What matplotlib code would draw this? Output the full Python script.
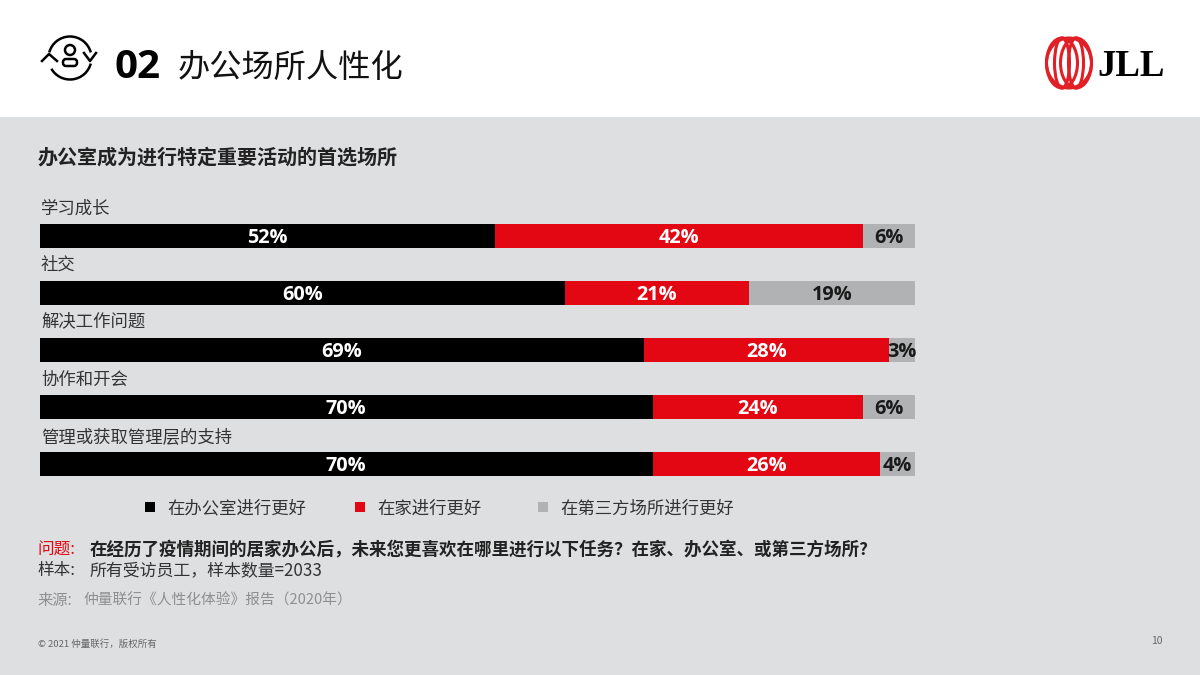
import matplotlib
matplotlib.use("Agg")
import matplotlib.pyplot as plt
from matplotlib.patches import Rectangle, Ellipse, Arc, Circle, FancyBboxPatch

FONT = ['Open Sans', 'Noto Sans CJK SC', 'DejaVu Sans']
CJK = ['Noto Sans CJK SC', 'DejaVu Sans']
plt.rcParams['font.family'] = CJK

categories = ['学习成长', '社交', '解决工作问题', '协作和开会', '管理或获取管理层的支持']
office = [52, 60, 69, 70, 70]
home = [42, 21, 28, 24, 26]
third = [6, 19, 3, 6, 4]
series_names = ['在办公室进行更好', '在家进行更好', '在第三方场所进行更好']

BG = '#DEDFE1'
RED = '#E30613'
GREY = '#B1B2B4'
W, H = 1200, 675

fig = plt.figure(figsize=(12, 6.75), dpi=100, facecolor='white')

# pixel-coordinate overlay for slide furniture
ov = fig.add_axes([0, 0, 1, 1])
ov.set_xlim(0, W)
ov.set_ylim(H, 0)
ov.axis('off')
ov.add_patch(Rectangle((0, 117), W, H - 117, fc=BG, ec='none'))

# bar chart
ax = fig.add_axes([40 / W, 1 - 492.5 / H, 875 / W, 284.5 / H])
ax.patch.set_alpha(0)
ax.set_xlim(0, 100)
ax.set_ylim(4.5, -0.5)
ax.axis('off')
ypos = list(range(len(categories)))
BH = 24 / 56.9
left2 = [a + b for a, b in zip(office, home)]
ax.barh(ypos, office, height=BH, color='black')
ax.barh(ypos, home, left=office, height=BH, color=RED)
ax.barh(ypos, third, left=left2, height=BH, color=GREY)
YT = 0.03
for i in ypos:
    ax.text(office[i] / 2, i + YT, f'{office[i]}%', color='white', ha='center', va='center',
            fontsize=14.3, fontweight='bold', family=FONT)
    ax.text(office[i] + home[i] / 2, i + YT, f'{home[i]}%', color='white', ha='center', va='center',
            fontsize=14.3, fontweight='bold', family=FONT)
    ax.text(left2[i] + third[i] / 2, i + YT, f'{third[i]}%', color='#1a1a1a', ha='center', va='center',
            fontsize=14.3, fontweight='bold', family=FONT)

# category labels
for lab, y in zip(categories, [208.5, 264.5, 321.5, 379.5, 438.5]):
    ov.text(41, y, lab, fontsize=12.5, color='#333333', va='center', ha='left')

# title
ov.text(115, 67, '02', fontsize=29, fontweight='bold', family=FONT, color='black', va='center')
ov.text(178, 68, '办公场所人性化', fontsize=23.2, color='#111111', va='center')
ov.text(38, 157, '办公室成为进行特定重要活动的首选场所', fontsize=14.45, fontweight='bold',
        color='#222222', va='center')

# icon
lw = 1.8
ov.add_patch(Arc((70, 58), 43, 43, theta1=195, theta2=345, lw=lw, color='black'))
ov.add_patch(Arc((70, 58), 43, 43, theta1=15, theta2=150, lw=lw, color='black'))
ov.plot([42, 49, 57], [61, 54, 61], color='black', lw=lw)
ov.plot([84, 90, 96], [53, 61, 53], color='black', lw=lw)
ov.add_patch(Circle((70, 50), 5, fc='none', ec='black', lw=lw))
ov.add_patch(FancyBboxPatch((63, 59), 14, 7, boxstyle='round,pad=0,rounding_size=3',
                            fc='none', ec='black', lw=lw))

# logo
LOGO = '#E01F26'
for cx, w in [(1069, 45), (1062, 31), (1076, 31), (1062, 15), (1076, 15)]:
    ov.add_patch(Ellipse((cx, 63), w, 50, fc='none', ec=LOGO, lw=2.2))
ov.text(1097, 66, 'JLL', fontsize=26.5, fontweight='bold', family='Liberation Serif',
        color='black', va='center', ha='left')

# legend
for x, col, name, tx in zip([145, 355, 538], ['black', RED, GREY], series_names, [167, 377, 560]):
    ov.add_patch(Rectangle((x, 502), 10, 10, fc=col, ec='none'))
    ov.text(tx, 508.5, name, fontsize=12.5, color='#333333', va='center')

# notes
ov.text(37, 550, '问题:', fontsize=12, color=RED, va='center')
ov.text(90, 550, '在经历了疫情期间的居家办公后，未来您更喜欢在哪里进行以下任务？在家、办公室、或第三方场所?',
        fontsize=12.63, fontweight='bold', color='#222222', va='center')
ov.text(37, 571, '样本:', fontsize=12, color='#333333', va='center')
ov.text(90, 571, '所有受访员工，样本数量=2033', fontsize=12.2, color='#333333', va='center')
ov.text(37, 600, '来源:', fontsize=11, color='#8E8F91', va='center')
ov.text(83, 600, '仲量联行《人性化体验》报告（2020年）', fontsize=10.6, color='#8E8F91', va='center')
ov.text(38, 644, '© 2021 仲量联行，版权所有', fontsize=6.8, color='#666666', va='center')
ov.text(1163, 641, '10', fontsize=7.5, color='#666666', va='center', ha='right')

fig.savefig('out.png', dpi=100, facecolor='white')
